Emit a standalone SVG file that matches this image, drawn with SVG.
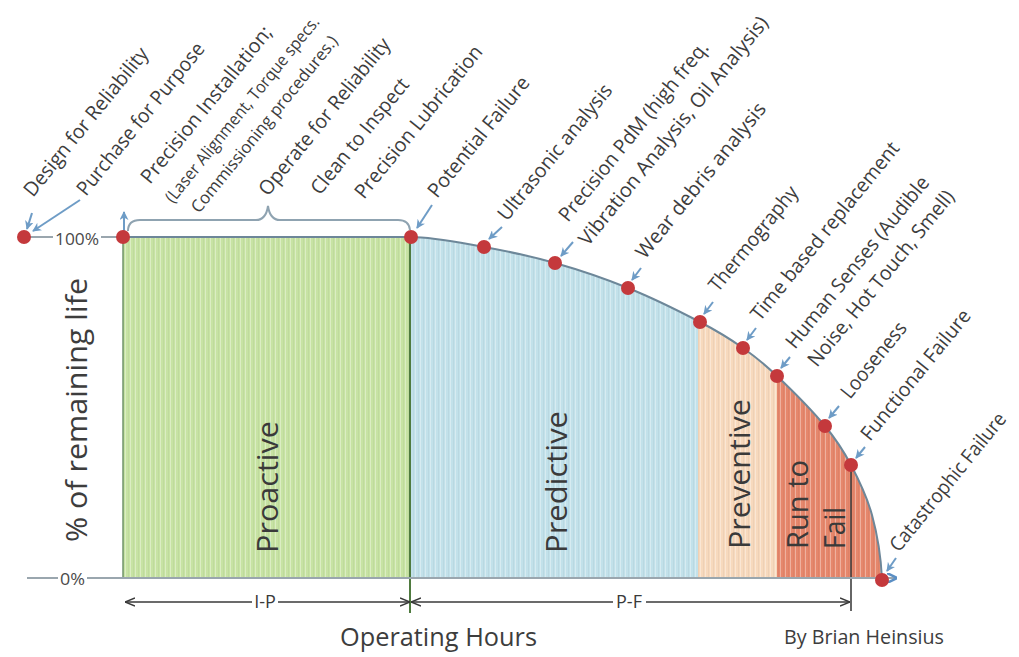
<svg xmlns="http://www.w3.org/2000/svg" width="1019" height="657" viewBox="0 0 1019 657">
  <style>
    text { font-family: "Open Sans", "Liberation Sans", sans-serif; fill: #3d3d3d; }
    .lbl { font-size: 20px; }
    .lbl-s { font-size: 17px; }
    .region { font-size: 30px; fill: #3a3a3a; }
    .axis-t { font-size: 16px; fill: #4a4a4a; }
    .dim-t { font-size: 18px; fill: #3a3a3a; }
    .pt { fill: #c4393c; }
    .ptr { fill: none; stroke: #6e9cc6; stroke-width: 2; marker-end: url(#head); }
    .grid { fill: none; stroke: #9aa6ae; stroke-width: 2; }
    .dim { fill: none; stroke: #3a3a3a; stroke-width: 1.4; }
  </style>
  <defs>
    <marker id="head" viewBox="0 0 10 10" refX="9" refY="5" markerWidth="9" markerHeight="9" markerUnits="userSpaceOnUse" orient="auto">
      <path d="M0,0 L10,5 L0,10 L3,5 z" fill="#6e9cc6"/>
    </marker>
    <marker id="chev" viewBox="0 0 10 10" refX="10" refY="5" markerWidth="10" markerHeight="10" markerUnits="userSpaceOnUse" orient="auto-start-reverse">
      <path d="M0,1 L10,5 L0,9" fill="none" stroke="#3a3a3a" stroke-width="1.5"/>
    </marker>
    <marker id="chevBlue" viewBox="0 0 10 10" refX="10" refY="5" markerWidth="10" markerHeight="10" markerUnits="userSpaceOnUse" orient="auto">
      <path d="M0,0 L10,5 L0,10" fill="none" stroke="#5b8fc4" stroke-width="2.5"/>
    </marker>
    <!-- fine vertical striping over the filled bands -->
    <pattern id="stripes" width="5" height="10" patternUnits="userSpaceOnUse">
      <rect x="0" y="0" width="1" height="10" fill="#ffffff" fill-opacity="0.35"/>
      <rect x="3" y="0" width="1" height="10" fill="#000000" fill-opacity="0.04"/>
    </pattern>
    <!-- life curve: flat to the potential-failure point, then falling to zero -->
    <path id="lifeCurve" d="M410,237 C435,237 459.8,242.7 484,247 C508.2,251.3 531,256.2 555,263 C579,269.8 603.8,278.2 628,288 C652.2,297.8 680.8,312 700,322 C719.2,332 730.2,339 743,348 C755.8,357 763.3,363 777,376 C790.7,389 812.7,411.2 825,426 C837.3,440.8 843.2,450.2 851,465 C858.8,479.8 866.8,496 872,515 C877.2,534 881,558 882,579"/>
    <clipPath id="underCurve">
      <path d="M123,578 L123,237 L410,237 C435,237 459.8,242.7 484,247 C508.2,251.3 531,256.2 555,263 C579,269.8 603.8,278.2 628,288 C652.2,297.8 680.8,312 700,322 C719.2,332 730.2,339 743,348 C755.8,357 763.3,363 777,376 C790.7,389 812.7,411.2 825,426 C837.3,440.8 843.2,450.2 851,465 C858.8,479.8 866.8,496 872,515 C877.2,534 881,558 882,579 L882,578 Z"/>
    </clipPath>
  </defs>

  <rect x="0" y="0" width="1019" height="657" fill="#ffffff"/>

  <!-- coloured bands under the curve -->
  <g id="bands" clip-path="url(#underCurve)">
    <rect id="band-proactive" x="123" y="230" width="287" height="348" fill="#c7e3a3"/>
    <rect id="band-predictive" x="410" y="230" width="288" height="348" fill="#c2e1ea"/>
    <rect id="band-preventive" x="698" y="230" width="79" height="348" fill="#f7d9bd"/>
    <rect id="band-runtofail" x="777" y="230" width="110" height="348" fill="#e6876c"/>
    <rect x="123" y="230" width="764" height="348" fill="url(#stripes)"/>
  </g>

  <!-- band outlines -->
  <g id="outlines">
    <line x1="123" y1="237" x2="123" y2="578" stroke="#71946a" stroke-width="1.5"/>
    <line x1="123" y1="237" x2="410" y2="237" stroke="#6d8799" stroke-width="2"/>
    <use href="#lifeCurve" fill="none" stroke="#6d8799" stroke-width="2"/>
    <line x1="410" y1="237" x2="410" y2="613" stroke="#4f7a3f" stroke-width="2"/>
    <line x1="851" y1="465" x2="851" y2="611" stroke="#333333" stroke-width="1.5"/>
  </g>

  <!-- axes -->
  <g id="axes">
    <line class="grid" x1="24" y1="237" x2="53" y2="237"/>
    <line class="grid" x1="101" y1="237" x2="123" y2="237"/>
    <text class="axis-t" x="55" y="245" textLength="44" lengthAdjust="spacingAndGlyphs">100%</text>
    <line class="grid" x1="27" y1="578" x2="58" y2="578"/>
    <line class="grid" x1="87" y1="578" x2="897" y2="578" marker-end="url(#chevBlue)"/>
    <text class="axis-t" x="60" y="585" textLength="25" lengthAdjust="spacingAndGlyphs">0%</text>
    <text x="0" y="0" transform="translate(87,542) rotate(-90)" font-size="30" textLength="264" lengthAdjust="spacingAndGlyphs">% of remaining life</text>
    <text x="340" y="646" font-size="25" textLength="197" lengthAdjust="spacingAndGlyphs">Operating Hours</text>
    <text x="784" y="644" font-size="20" textLength="160" lengthAdjust="spacingAndGlyphs">By Brian Heinsius</text>
  </g>

  <!-- strategy names -->
  <g id="region-labels">
    <text class="region" transform="translate(278,553) rotate(-90)" textLength="132" lengthAdjust="spacingAndGlyphs">Proactive</text>
    <text class="region" transform="translate(567,553) rotate(-90)" textLength="142" lengthAdjust="spacingAndGlyphs">Predictive</text>
    <text class="region" transform="translate(750,549) rotate(-90)" textLength="150" lengthAdjust="spacingAndGlyphs">Preventive</text>
    <text class="region" font-size="28" transform="translate(808,549) rotate(-90)" textLength="89" lengthAdjust="spacingAndGlyphs">Run to</text>
    <text class="region" font-size="28" transform="translate(845,549) rotate(-90)" textLength="42" lengthAdjust="spacingAndGlyphs">Fail</text>
  </g>

  <!-- I-P and P-F intervals -->
  <g id="intervals">
    <path class="dim" d="M125,602 H252" marker-start="url(#chev)"/>
    <path class="dim" d="M278,602 H410" marker-end="url(#chev)"/>
    <text class="dim-t" x="265" y="608" text-anchor="middle">I-P</text>
    <path class="dim" d="M411,602 H613" marker-start="url(#chev)"/>
    <path class="dim" d="M646,602 H850" marker-end="url(#chev)"/>
    <text class="dim-t" x="629" y="608" text-anchor="middle">P-F</text>
  </g>

  <!-- brace over the proactive span -->
  <path id="brace" d="M128,231 Q128,220 140,220 H256 Q266,220 268,206 Q270,220 280,220 H398 Q409,220 410,230" fill="none" stroke="#8fa3b1" stroke-width="2"/>

  <!-- connectors: pointers from each label to its point -->
  <g id="connectors">
    <path class="ptr" d="M32,213 L27,229"/>
    <path class="ptr" d="M80,200 L33,231"/>
    <path class="ptr" d="M124,231 L124,212"/>
    <path class="ptr" d="M432,205 L417,228"/>
    <path class="ptr" d="M502,227 L489,239"/>
    <path class="ptr" d="M573,242 L561,256"/>
    <path class="ptr" d="M641,268 L632,280"/>
    <path class="ptr" d="M713,302 L704,314"/>
    <path class="ptr" d="M756,328 L747,340"/>
    <path class="ptr" d="M790,357 L781,368"/>
    <path class="ptr" d="M839,406 L829,418"/>
    <path class="ptr" d="M865,447 L856,458"/>
    <path class="ptr" d="M896,558 L887,571"/>
  </g>

  <!-- points on the curve -->
  <g id="points">
    <circle id="pt-design" class="pt" cx="24" cy="237" r="7"/>
    <circle id="pt-install" class="pt" cx="123" cy="237" r="7"/>
    <circle id="pt-potential" class="pt" cx="411" cy="237" r="7"/>
    <circle id="pt-ultrasonic" class="pt" cx="484" cy="247" r="7"/>
    <circle id="pt-pdm" class="pt" cx="555" cy="263" r="7"/>
    <circle id="pt-wear" class="pt" cx="628" cy="288" r="7"/>
    <circle id="pt-thermo" class="pt" cx="700" cy="322" r="7"/>
    <circle id="pt-time" class="pt" cx="743" cy="348" r="7"/>
    <circle id="pt-senses" class="pt" cx="777" cy="376" r="7"/>
    <circle id="pt-loose" class="pt" cx="825" cy="426" r="7"/>
    <circle id="pt-functional" class="pt" cx="851" cy="465" r="7"/>
    <circle id="pt-catastrophic" class="pt" cx="882" cy="580" r="7"/>
  </g>

  <!-- slanted labels -->
  <g id="labels" class="lbl">
    <g id="lbl-design"><text transform="translate(33,198) rotate(-51)" textLength="185" lengthAdjust="spacingAndGlyphs">Design for Reliability</text></g>
    <g id="lbl-purchase"><text transform="translate(86,197) rotate(-51)" textLength="190" lengthAdjust="spacingAndGlyphs">Purchase for Purpose</text></g>
    <g id="lbl-install">
      <text transform="translate(150,185) rotate(-51)" textLength="196" lengthAdjust="spacingAndGlyphs">Precision Installation;</text>
      <text class="lbl-s" transform="translate(173,204) rotate(-51)" textLength="234" lengthAdjust="spacingAndGlyphs">(Laser Alignment, Torque specs.</text>
      <text class="lbl-s" transform="translate(199,214) rotate(-51)" textLength="222" lengthAdjust="spacingAndGlyphs">Commissioning procedures.)</text>
    </g>
    <g id="lbl-operate"><text transform="translate(268,197) rotate(-51)" textLength="196" lengthAdjust="spacingAndGlyphs">Operate for Reliability</text></g>
    <g id="lbl-clean"><text transform="translate(320,196) rotate(-51)" textLength="143" lengthAdjust="spacingAndGlyphs">Clean to Inspect</text></g>
    <g id="lbl-lube"><text transform="translate(364,200) rotate(-51)" textLength="190" lengthAdjust="spacingAndGlyphs">Precision Lubrication</text></g>
    <g id="lbl-potential"><text transform="translate(437,199) rotate(-51)" textLength="149" lengthAdjust="spacingAndGlyphs">Potential Failure</text></g>
    <g id="lbl-ultrasonic"><text transform="translate(507,222) rotate(-51)" textLength="169" lengthAdjust="spacingAndGlyphs">Ultrasonic analysis</text></g>
    <g id="lbl-pdm">
      <text transform="translate(568,223) rotate(-51)" textLength="225" lengthAdjust="spacingAndGlyphs">Precision PdM (high freq.</text>
      <text transform="translate(588,247) rotate(-51)" textLength="288" lengthAdjust="spacingAndGlyphs">Vibration Analysis, Oil Analysis)</text>
    </g>
    <g id="lbl-wear"><text transform="translate(645,260) rotate(-51)" textLength="194" lengthAdjust="spacingAndGlyphs">Wear debris analysis</text></g>
    <g id="lbl-thermo"><text transform="translate(718,293) rotate(-51)" textLength="129" lengthAdjust="spacingAndGlyphs">Thermography</text></g>
    <g id="lbl-time"><text transform="translate(760,322) rotate(-51)" textLength="223" lengthAdjust="spacingAndGlyphs">Time based replacement</text></g>
    <g id="lbl-senses">
      <text transform="translate(795,350) rotate(-51)" textLength="215" lengthAdjust="spacingAndGlyphs">Human Senses (Audible</text>
      <text transform="translate(817,368) rotate(-51)" textLength="220" lengthAdjust="spacingAndGlyphs">Noise, Hot Touch, Smell)</text>
    </g>
    <g id="lbl-loose"><text transform="translate(850,400) rotate(-51)" textLength="92" lengthAdjust="spacingAndGlyphs">Looseness</text></g>
    <g id="lbl-functional"><text transform="translate(870,442) rotate(-51)" textLength="162" lengthAdjust="spacingAndGlyphs">Functional Failure</text></g>
    <g id="lbl-catastrophic"><text transform="translate(899,553) rotate(-51)" textLength="172" lengthAdjust="spacingAndGlyphs">Catastrophic Failure</text></g>
  </g>
</svg>
